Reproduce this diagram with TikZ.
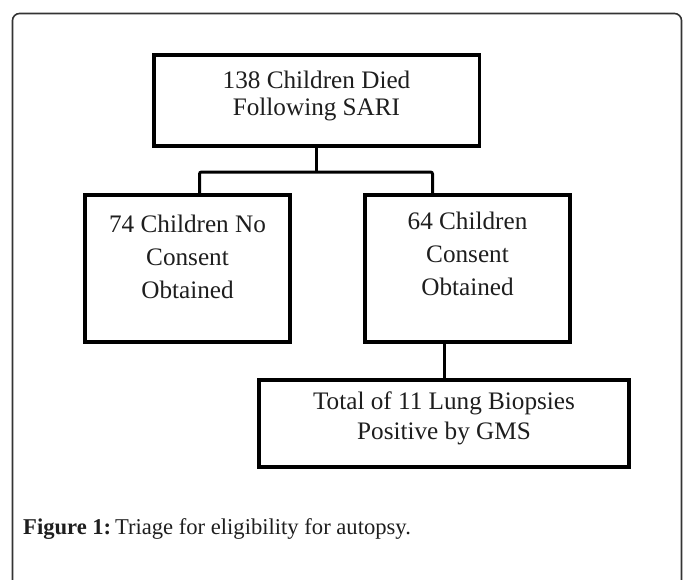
\documentclass[tikz,border=0pt]{standalone}
\usepackage{fontspec}
\setmainfont{Liberation Serif}
\definecolor{ink}{HTML}{1E1E1E}
\definecolor{framec}{HTML}{333333}
\tikzset{
  box/.style={draw=black, line width=3.5pt, rectangle, outer sep=0pt, inner sep=0pt, fill=white},
  txt/.style={text=ink, align=center, inner sep=0pt, font=\fontsize{25.2}{33}\selectfont},
  conn/.style={draw=black, line width=3pt, rounded corners=2pt},
}
\begin{document}
\begin{tikzpicture}[x=1pt,y=-1pt]
\useasboundingbox (0,0) rectangle (683,579);
% outer frame
\draw[framec, line width=1.6pt, rounded corners=7pt] (12.5,13.5) -- (681.5,13.5) -- (681.5,600) -- (12.5,600) -- cycle;

% boxes
\node[box, minimum width=325.5pt, minimum height=91pt] (top) at (316.5,100.5) {};
\node[box, minimum width=205pt, minimum height=147pt] (left) at (187.5,268.5) {};
\node[box, minimum width=205pt, minimum height=147pt] (right) at (467.5,268.5) {};
\node[box, minimum width=370pt, minimum height=87pt] (bot) at (444,423.5) {};

% texts
\node[txt, font=\fontsize{25.2}{27}\selectfont] (toptxt) at (316.5,96) {138 Children Died\\Following SARI};
\node[txt] (lefttxt) at (187.5,257) {74 Children No\\Consent\\Obtained};
\node[txt] (righttxt) at (467.5,254) {64 Children\\Consent\\Obtained};
\node[txt, font=\fontsize{25.2}{30}\selectfont] (bottxt) at (444,418.5) {Total of 11 Lung Biopsies\\Positive by GMS};

% connectors
\coordinate (jl) at (199.5,172);
\coordinate (jr) at (432.5,172);
\draw[conn] (top.south) -- (top.south |- jl);
\draw[conn] (jl |- left.north) -- (jl) -- (jr) -- (jr |- right.north);
\draw[conn] (bot.north) -- (bot.north |- right.south);

% caption
\node[anchor=base west, inner sep=0pt, text=ink, font=\fontsize{22.6}{26}\selectfont] (cap) at (23,534) {\textbf{Figure 1:}\,Triage for eligibility for autopsy.};
\end{tikzpicture}
\end{document}
